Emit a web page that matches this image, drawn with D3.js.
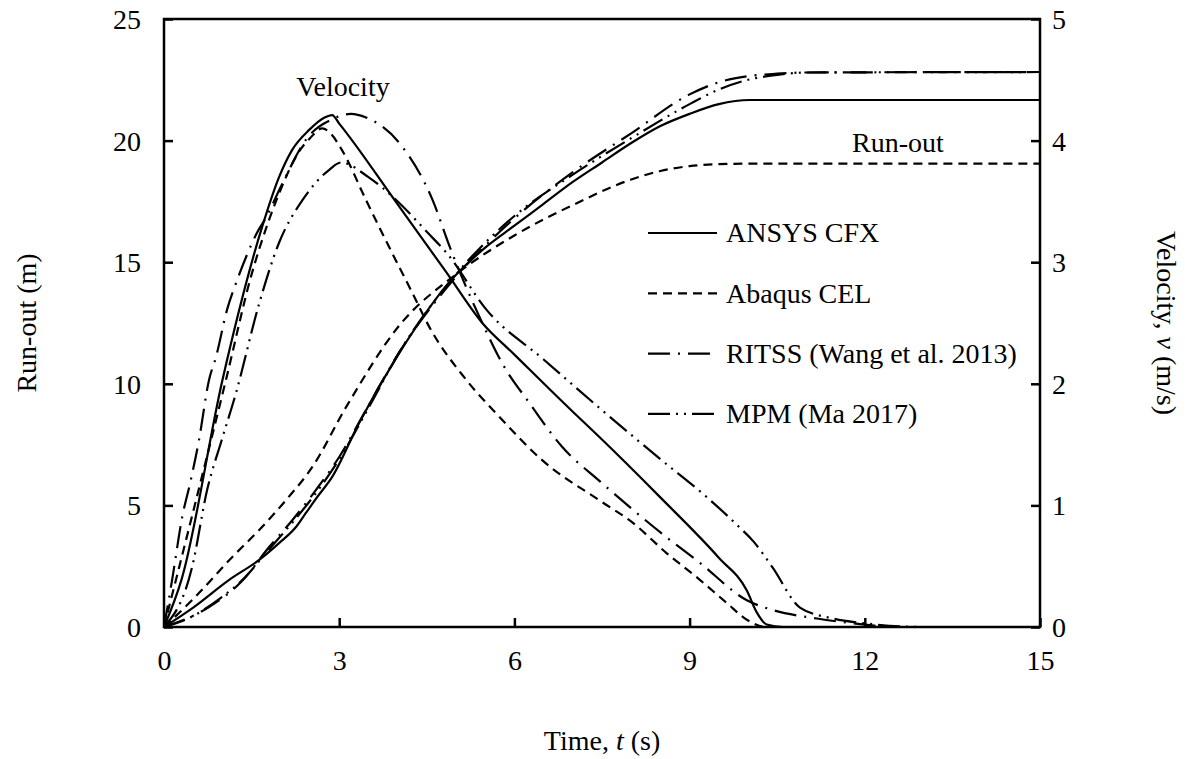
<!DOCTYPE html>
<html>
<head>
<meta charset="utf-8">
<script src="https://cdn.jsdelivr.net/npm/d3@7"></script>
<style>
  html, body { margin: 0; padding: 0; background: #fff; }
  svg text { font-family: "Liberation Serif", "Times New Roman", serif; fill: #000; }
</style>
</head>
<body>
<svg id="chart" width="1185" height="759"></svg>
<script>
// ── Series: [time (s), value] ─────────────────────────────────────────────
// Velocity (m/s, right axis)
const cfxVelocity = [[0,0],[0.3,0.39],[1.0,2.03],[1.68,3.29],[1.97,3.70],[2.19,3.92],[2.49,4.09],[2.75,4.19],
  [2.88,4.21],[3.0,4.14],[3.98,3.49],[4.83,2.92],[5.45,2.50],[6.0,2.24],[7.0,1.77],[7.46,1.56],[8.49,1.07],
  [9.5,0.57],[9.98,0.30],[10.15,0.12],[10.32,0.02],[10.6,0],[15,0]];
const celVelocity = [[0,0],[0.5,0.95],[1.06,2.03],[1.5,2.9],[1.8,3.35],[2.0,3.6],[2.3,3.9],[2.5,4.02],[2.71,4.10],
  [2.85,4.06],[3.05,3.92],[3.46,3.51],[3.86,3.12],[4.25,2.75],[4.54,2.47],[5.18,2.03],[5.74,1.73],[6.48,1.37],
  [7.46,1.04],[8.02,0.86],[8.6,0.61],[9.17,0.39],[9.63,0.2],[9.98,0.06],[10.3,0],[15,0]];
const ritssVelocity = [[0,0],[0.14,0.39],[0.31,0.90],[0.46,1.21],[0.6,1.54],[0.77,2.03],[0.89,2.22],[1.08,2.61],
  [1.25,2.85],[1.42,3.06],[1.59,3.24],[1.75,3.37],[2.0,3.62],[2.45,4.02],[2.9,4.18],[3.2,4.22],[3.46,4.19],
  [4.08,3.95],[4.6,3.51],[4.89,3.13],[5.45,2.50],[5.79,2.17],[6.26,1.84],[6.82,1.48],[7.46,1.2],[8.6,0.74],
  [9.17,0.53],[9.98,0.22],[10.42,0.14],[11.18,0.07],[12,0.02],[12.5,0],[15,0]];
const mpmVelocity = [[0,0],[0.48,0.49],[0.74,1.13],[0.99,1.54],[1.23,1.92],[1.63,2.66],[1.97,3.16],[2.37,3.51],
  [2.83,3.76],[3.03,3.82],[3.5,3.7],[3.98,3.51],[4.5,3.25],[4.85,3.07],[5.52,2.61],[6.5,2.2],[7.46,1.8],
  [8.5,1.38],[9.29,1.07],[9.81,0.84],[10.1,0.7],[10.42,0.49],[10.89,0.16],[11.45,0.07],[12,0.03],[13,0],[15,0]];

// Run-out (m, left axis)
const cfxRunout = [[0,0],[0.5,0.8],[1.11,1.93],[1.63,2.76],[1.97,3.45],[2.26,4.11],[2.43,4.69],[2.61,5.30],
  [2.88,6.17],[3.34,8.39],[4.03,11.27],[4.89,14.19],[5.5,15.6],[6,16.5],[6.5,17.4],[7,18.3],[7.5,19.1],[8,19.9],
  [8.5,20.6],[9,21.1],[9.5,21.5],[10.03,21.67],[15,21.67]];
const celRunout = [[0,0],[0.5,1.15],[1.17,2.88],[1.63,3.99],[2.09,5.22],[2.54,6.58],[3.12,9.05],[4.03,12.4],
  [5,14.5],[6,16.1],[7,17.35],[8,18.4],[8.5,18.75],[9,18.95],[9.5,19.03],[10,19.05],[15,19.05]];
const ritssRunout = [[0,0],[0.77,0.82],[1.34,1.9],[1.8,3.29],[2.2,4.4],[2.6,5.63],[3.0,6.99],[3.5,9.1],[4.03,11.3],
  [5,14.4],[6,16.8],[7,18.7],[8,20.3],[9,21.9],[9.5,22.4],[10,22.65],[10.5,22.75],[11,22.8],[15,22.82]];
const mpmRunout = [[0,0],[0.37,0.3],[0.99,1.23],[1.34,1.93],[1.8,3.2],[2.2,4.3],[2.6,5.5],[3.0,6.9],[3.5,9.0],
  [4.03,11.3],[5,14.5],[6,16.9],[7,18.6],[8,20.1],[9,21.5],[9.5,22.1],[10,22.5],[10.5,22.7],[11,22.8],[15,22.82]];

const legendNames = ['ANSYS CFX', 'Abaqus CEL', 'RITSS (Wang et al. 2013)', 'MPM (Ma 2017)'];
const timeTicks = [0, 3, 6, 9, 12, 15];
const runoutTicks = [0, 5, 10, 15, 20, 25];
const velocityTicks = [0, 1, 2, 3, 4, 5];

// ── Layout ────────────────────────────────────────────────────────────────
const m = { left: 164, right: 1040, top: 19, bottom: 627 };
const FS = 28;

// line styles per model
const dashes = ['none', '9,6', '22,8,2,8', '22,6,2,6,2,6'];

const svg = d3.select('#chart');

const x = d3.scaleLinear().domain([0, 15]).range([m.left, m.right]);
const yL = d3.scaleLinear().domain([0, 25]).range([m.bottom, m.top]);
const yR = d3.scaleLinear().domain([0, 5]).range([m.bottom, m.top]);

// ── Curves ───────────────────────────────────────────────────────────────
const curves = svg.append('g').attr('fill', 'none').attr('stroke', '#000').attr('stroke-width', 2.2);

const velLine = d3.line().x(d => x(d[0])).y(d => yR(d[1])).curve(d3.curveMonotoneX);
const runLine = d3.line().x(d => x(d[0])).y(d => yL(d[1])).curve(d3.curveMonotoneX);

[cfxVelocity, celVelocity, ritssVelocity, mpmVelocity].forEach((s, i) => {
  curves.append('path').attr('d', velLine(s)).attr('stroke-dasharray', dashes[i]);
});
[cfxRunout, celRunout, ritssRunout, mpmRunout].forEach((s, i) => {
  curves.append('path').attr('d', runLine(s)).attr('stroke-dasharray', dashes[i]);
});

// ── Axes (ticks point inward) ────────────────────────────────────────────
const tickLen = 9;

const xAxis = svg.append('g')
  .attr('transform', `translate(0,${m.bottom})`)
  .call(d3.axisBottom(x).tickValues(timeTicks).tickSize(-tickLen).tickPadding(0).tickFormat(d3.format('d')));
xAxis.selectAll('text').attr('y', 43).attr('dy', 0);

const yAxisL = svg.append('g')
  .attr('transform', `translate(${m.left},0)`)
  .call(d3.axisLeft(yL).tickValues(runoutTicks).tickSize(-tickLen).tickFormat(d3.format('d')));
yAxisL.selectAll('text').attr('x', -23).attr('dy', '0.34em');

const yAxisR = svg.append('g')
  .attr('transform', `translate(${m.right},0)`)
  .call(d3.axisRight(yR).tickValues(velocityTicks).tickSize(-tickLen).tickFormat(d3.format('d')));
yAxisR.selectAll('text').attr('x', 12).attr('dy', '0.34em');

[xAxis, yAxisL, yAxisR].forEach(g => {
  g.select('.domain').remove();
  g.selectAll('.tick line').attr('stroke', '#000').attr('stroke-width', 2.5);
  g.selectAll('text').attr('font-size', FS).attr('font-family', '"Liberation Serif", serif').attr('fill', '#000');
});

// plot frame
svg.append('rect')
  .attr('x', m.left).attr('y', m.top)
  .attr('width', m.right - m.left).attr('height', m.bottom - m.top)
  .attr('fill', 'none').attr('stroke', '#000').attr('stroke-width', 2.5);

// ── Titles ───────────────────────────────────────────────────────────────
const tx = svg.append('text')
  .attr('x', (m.left + m.right) / 2).attr('y', 750)
  .attr('text-anchor', 'middle').attr('font-size', FS);
tx.append('tspan').text('Time, ');
tx.append('tspan').attr('font-style', 'italic').text('t');
tx.append('tspan').text(' (s)');

svg.append('text')
  .attr('transform', `translate(36,${(m.top + m.bottom) / 2}) rotate(-90)`)
  .attr('text-anchor', 'middle').attr('font-size', FS)
  .text('Run-out (m)');

const tv = svg.append('text')
  .attr('transform', `translate(1157,${(m.top + m.bottom) / 2}) rotate(90)`)
  .attr('text-anchor', 'middle').attr('font-size', FS);
tv.append('tspan').text('Velocity, ');
tv.append('tspan').attr('font-style', 'italic').text('v');
tv.append('tspan').text(' (m/s)');

// curve group labels
svg.append('text').attr('x', 343).attr('y', 96).attr('text-anchor', 'middle').attr('font-size', FS).text('Velocity');
svg.append('text').attr('x', 898).attr('y', 152).attr('text-anchor', 'middle').attr('font-size', FS).text('Run-out');

// ── Legend ───────────────────────────────────────────────────────────────
const legend = svg.append('g');
legendNames.forEach((name, i) => {
  const ly = 233 + i * 60.3;
  legend.append('line')
    .attr('x1', 648).attr('x2', 717).attr('y1', ly).attr('y2', ly)
    .attr('stroke', '#000').attr('stroke-width', 2.2).attr('stroke-dasharray', dashes[i]);
  legend.append('text')
    .attr('x', 726).attr('y', ly).attr('dy', '0.33em')
    .attr('font-size', FS).text(name);
});
</script>
</body>
</html>
